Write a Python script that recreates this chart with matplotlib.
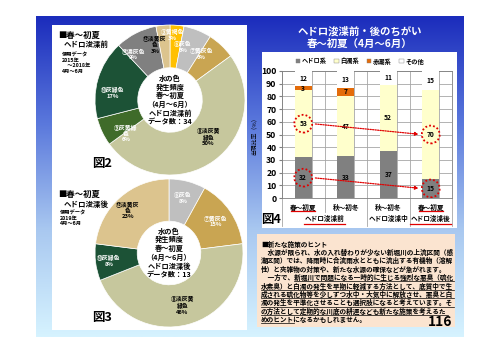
import numpy as np
import matplotlib.pyplot as plt
from matplotlib.patches import Rectangle, Ellipse, Patch
from matplotlib.colors import LinearSegmentedColormap

plt.rcParams['font.family'] = ['Noto Sans CJK JP', 'DejaVu Sans']
plt.rcParams['font.weight'] = 'bold'

W, H = 500, 353

# --- donut data (fig.2: before dredging, fig.3: after dredging)
pie2_labels = ['③黄褐色', '⑥灰色', '⑦黄灰色', '⑧淡灰黄\n緑色', '⑨灰黄緑\n色', '⑩灰緑色', '⑪濃灰色', '⑫淡黄灰\n色']
pie2_values = [3, 6, 6, 50, 6, 17, 9, 3]
pie2_colors = ['#ffc000', '#bfbfbf', '#c9a552', '#c6c79d', '#3f6b2a', '#1c5236', '#808080', '#dcc48e']
pie2_txtcol = ['white', 'white', 'white', 'black', 'white', 'white', 'white', 'black']

pie3_labels = ['⑥灰色', '⑦黄灰色', '⑧淡灰黄\n緑色', '⑩灰緑色', '⑫淡黄灰\n色']
pie3_values = [8, 15, 46, 8, 23]
pie3_colors = ['#bfbfbf', '#c9a552', '#c6c79d', '#1c5236', '#dcc48e']
pie3_txtcol = ['white', 'white', 'black', 'white', 'black']

# --- bar data (fig.4)
bar_cats = ['春～初夏', '秋～初冬', '秋～初冬', '春～初夏']
series_names = ['ヘドロ系', '白濁系', '赤潮系', 'その他']
hedoro = [32, 33, 37, 15]
hakudaku = [53, 47, 52, 70]
akashio = [3, 7, 0, 0]
sonota = [12, 13, 11, 15]
bar_colors = ['#808080', '#ffffcc', '#e46c0a', '#ffffff']

note_lines = [
    '■新たな施策のヒント',
    '　水源が限られ、水の入れ替わりが少ない新堀川の上流区間（感',
    '潮区間）では、降雨時に合流雨水とともに流出する有機物（溶解',
    '性）と夾雑物の対策や、新たな水源の確保などが急がれます。',
    '　一方で、新堀川で問題になる一時的に生じる強烈な悪臭（硫化',
    '水素臭）と白濁の発生を早期に軽減する方法として、底質中で生',
    '成される硫化物等を少しずつ水中・大気中に解放させ、悪臭と白',
    '濁の発生を平準化させることも選択肢になると考えています。そ',
    'の方法として定期的な川底の耕運なども新たな施策を考えるた',
    'めのヒントになるかもしれません。',
]
# underlined character range per line (start, end)
note_under = [None, None, None, None, (5, 29), (0, 29), (0, 29), (0, 29), (0, 28), (0, 5)]

fig = plt.figure(figsize=(W / 100, H / 100), dpi=100)


def px_axes(x0, y0, x1, y1):
    return fig.add_axes([x0 / W, 1 - y1 / H, (x1 - x0) / W, (y1 - y0) / H])


# background slide
bg = fig.add_axes([0, 0, 1, 1])
bg.set_xlim(0, W)
bg.set_ylim(H, 0)
bg.axis('off')
cmap = LinearSegmentedColormap.from_list('slide', ['#1b2cbc', '#5a78dc', '#a9c8f0', '#d6f3ff'])
grad = np.linspace(0, 1, 256).reshape(-1, 1)
bg.imshow(grad, extent=(36, 464, 337, 16), aspect='auto', cmap=cmap, zorder=0)
bg.add_patch(Rectangle((52, 25), 195, 305, facecolor='white', edgecolor='none', zorder=1))
bg.add_patch(Rectangle((262, 52), 195, 176, facecolor='white', edgecolor='none', zorder=1))
bg.add_patch(Rectangle((257, 234), 198, 93, facecolor='#fbe4d0', edgecolor='none', zorder=1))

bg.text(360, 31, 'ヘドロ浚渫前・後のちがい', color='white', fontsize=7.5, ha='center', va='center', zorder=2)
bg.text(360, 44, '春～初夏（4月～6月）', color='white', fontsize=7.5, ha='center', va='center', zorder=2)

# left side captions
bg.text(58, 35, '■春～初夏', fontsize=6, va='center', zorder=2)
bg.text(64, 44, 'ヘドロ浚渫前', fontsize=5.4, va='center', zorder=2)
bg.text(62, 52, '使用データ\n2015年\n　～2018年\n4月～6月', fontsize=3.8, va='top', linespacing=1.15, zorder=2)
bg.text(92, 164, '図2', fontsize=9, va='center', zorder=2)

bg.text(58, 194, '■春～初夏', fontsize=6, va='center', zorder=2)
bg.text(64, 204, 'ヘドロ浚渫後', fontsize=5.4, va='center', zorder=2)
bg.text(60, 210, '使用データ\n2019年\n4月～6月', fontsize=3.8, va='top', linespacing=1.15, zorder=2)
bg.text(92, 318, '図3', fontsize=9, va='center', zorder=2)


def donut(rect, values, labels, colors, txtcol, center, lab_r, lab_off):
    ax = px_axes(*rect)
    wedges, _ = ax.pie(values, colors=colors, startangle=90, counterclock=False, radius=1,
                       wedgeprops=dict(width=0.57, edgecolor='white', linewidth=0.5))
    for w, lab, v, c, r, off in zip(wedges, labels, values, txtcol, lab_r, lab_off):
        ang = np.deg2rad((w.theta1 + w.theta2) / 2 + off)
        ax.text(r * np.cos(ang), r * np.sin(ang), f'{lab}\n{v}%', ha='center', va='center',
                fontsize=4.2, color=c, linespacing=1.15)
    ax.text(0, 0, center, ha='center', va='center', fontsize=5.2, linespacing=1.25)
    ax.set_xlim(-1, 1)
    ax.set_ylim(-1, 1)
    ax.axis('off')
    return ax


donut((95, 25, 245, 175), pie2_values, pie2_labels, pie2_colors, pie2_txtcol,
      '水の色\n発生頻度\n春～初夏\n（4月～6月）\nヘドロ浚渫前\nデータ数：34',
      [0.87, 0.73, 0.74, 0.71, 0.74, 0.77, 0.78, 0.76], [3, 8, 9, 10, 12, 9, 12, 10])
donut((95, 179, 243, 327), pie3_values, pie3_labels, pie3_colors, pie3_txtcol,
      '水の色\n発生頻度\n春～初夏\n（4月～6月）\nヘドロ浚渫後\nデータ数：13',
      [0.77, 0.76, 0.73, 0.82, 0.8], [0, 0, 0, 0, 3])

# --- stacked bar chart
bx = px_axes(282, 71, 452, 198)
x = np.arange(len(bar_cats))
bw = 0.4
bottoms = np.zeros(len(bar_cats))
for name, vals, col in zip(series_names, [hedoro, hakudaku, akashio, sonota], bar_colors):
    bx.bar(x, vals, bw, bottom=bottoms, color=col, edgecolor='none', zorder=3, label=name)
    for xi, v, b in zip(x, vals, bottoms):
        if v > 0:
            bx.text(xi, b + v / 2, str(v), ha='center', va='center', fontsize=4.8, zorder=6)
    bottoms += np.array(vals)

bx.set_xlim(-0.5, len(bar_cats) - 0.5)
bx.set_ylim(0, 100)
bx.set_yticks(range(0, 101, 10))
bx.tick_params(axis='y', labelsize=6.2, length=2, color='#808080', pad=2)
bx.grid(axis='y', color='#a6a6a6', lw=0.6, zorder=0)
for xv in np.concatenate([x - 0.5, x - bw / 2, x + bw / 2, [x[-1] + 0.5]]):
    bx.axvline(xv, color='#a6a6a6', lw=0.6, zorder=0)
for s in bx.spines.values():
    s.set_color('#808080')
    s.set_linewidth(0.6)
bx.set_xticks(x, bar_cats)
bx.tick_params(axis='x', labelsize=4.8, length=0, pad=4)
bx.set_ylabel('出現比率（%）', fontsize=4.2, labelpad=3)

tr = bx.get_xaxis_transform()
for xv, low in [(-0.5, -0.22), (0.5, -0.11), (1.5, -0.22), (2.5, -0.22), (3.5, -0.22)]:
    bx.plot([xv, xv], [0, low], transform=tr, clip_on=False, color='#a6a6a6', lw=0.6)
for xv in [0, 3]:
    bx.plot([xv - 0.28, xv + 0.28], [-0.105, -0.105], transform=tr, clip_on=False, color='#e00000', lw=0.9)
for xc, txt, red in [(0.5, 'ヘドロ浚渫前', True), (2, 'ヘドロ浚渫中', False), (3, 'ヘドロ浚渫後', True)]:
    bx.text(xc, -0.16, txt, transform=tr, ha='center', va='center', fontsize=4.8)
    if red:
        bx.plot([xc - 0.48, xc + 0.48], [-0.205, -0.205], transform=tr, clip_on=False, color='#e00000', lw=0.9)

# dotted circles and arrows
red = '#e00000'
marks = [(0, hedoro[0] + hakudaku[0] / 2), (0, hedoro[0] / 2), (3, hedoro[3] + hakudaku[3] / 2), (3, hedoro[3] / 2)]
for mx, my in marks:
    bx.add_patch(Ellipse((mx, my), 0.42, 14, fill=False, edgecolor=red, lw=1.3, linestyle=(0, (1, 1.2)), zorder=7))
for (sx, sy), (ex, ey) in [(marks[0], marks[2]), (marks[1], marks[3])]:
    bx.annotate('', xy=(ex - 0.22, ey), xytext=(sx + 0.22, sy),
                arrowprops=dict(arrowstyle='-|>', color=red, lw=0.9, linestyle=(0, (1, 1)), mutation_scale=5),
                zorder=7)

handles = [Patch(facecolor=c, edgecolor='#808080', lw=0.3) for c in bar_colors]
fig.legend(handles, series_names, loc='center', bbox_to_anchor=(360 / W, 1 - 61 / H), ncol=4,
           frameon=False, fontsize=4.5, handlelength=0.7, handleheight=0.7, columnspacing=1.2,
           handletextpad=0.3)

bg.text(261, 220, '図4', fontsize=9, va='center', zorder=2)

# --- note box
fs = 4.8
em = fs * 100 / 72
y0, step = 244, 8.4
for i, (line, und) in enumerate(zip(note_lines, note_under)):
    yy = y0 + i * step
    bg.text(261, yy, line, fontsize=fs, va='center', ha='left', zorder=2)
    if und:
        bg.plot([261 + und[0] * em, 261 + und[1] * em], [yy + 3.8, yy + 3.8], color='black', lw=0.5, zorder=2)
bg.text(452, 322, '116', fontsize=10, ha='right', va='center', zorder=2)

fig.savefig('out.png', dpi=100)
